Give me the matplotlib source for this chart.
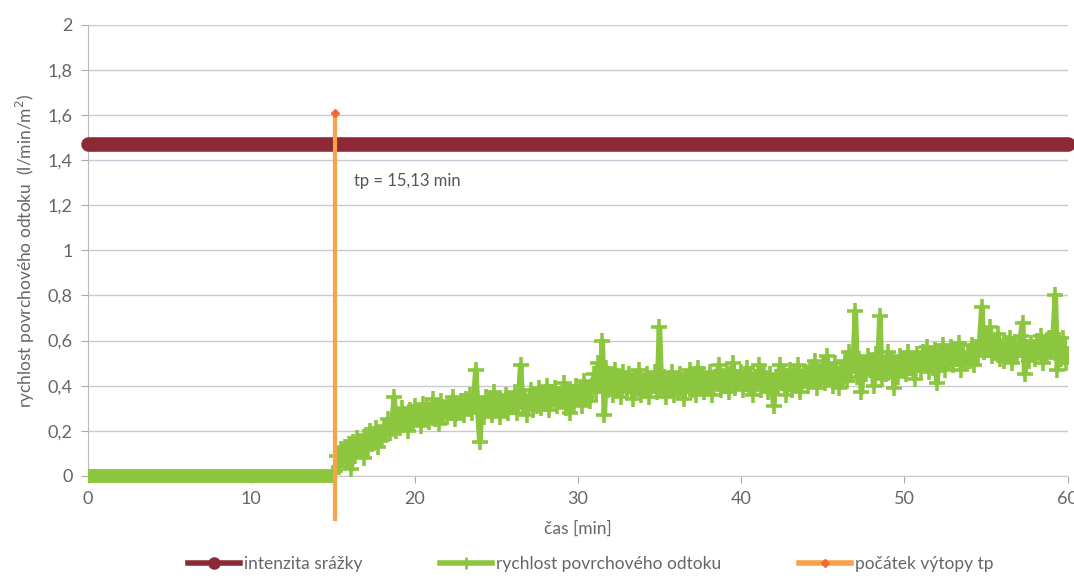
import numpy as np
import matplotlib.pyplot as plt
from matplotlib.ticker import FuncFormatter, MultipleLocator

plt.rcParams['font.family'] = ['Lato', 'DejaVu Sans']

# rain intensity (constant) [l/min/m2]
rain_t = [0, 60]
rain_i = [1.47, 1.47]

# start of ponding
tp = 15.13
tp_y = [-0.19, 1.61]

# runoff before ponding
zero_t = [0, 15.13]
zero_q = [0, 0]

# runoff after ponding, read every 0.125 min (one row = one minute)
runoff_q = [0.02,
            0.09, 0.04, 0.12, 0.07, 0.13, 0.06,
            0.14, 0.03, 0.15, 0.09, 0.17, 0.11, 0.13, 0.08,
            0.18, 0.12, 0.20, 0.14, 0.17, 0.21, 0.13, 0.19,
            0.16, 0.22, 0.18, 0.25, 0.19, 0.23, 0.35, 0.20,
            0.27, 0.21, 0.30, 0.23, 0.26, 0.20, 0.29, 0.24,
            0.31, 0.25, 0.28, 0.22, 0.32, 0.26, 0.30, 0.24,
            0.29, 0.34, 0.25, 0.31, 0.23, 0.33, 0.27, 0.30,
            0.26, 0.32, 0.28, 0.35, 0.25, 0.31, 0.29, 0.33,
            0.27, 0.34, 0.30, 0.36, 0.28, 0.33, 0.47, 0.29,
            0.15, 0.32, 0.26, 0.35, 0.29, 0.33, 0.27, 0.37,
            0.30, 0.34, 0.26, 0.32, 0.29, 0.36, 0.28, 0.33,
            0.31, 0.37, 0.28, 0.34, 0.49, 0.30, 0.35, 0.27,
            0.33, 0.38, 0.29, 0.35, 0.31, 0.39, 0.30, 0.36,
            0.32, 0.40, 0.29, 0.37, 0.34, 0.39, 0.31, 0.36,
            0.33, 0.41, 0.30, 0.38, 0.28, 0.37, 0.32, 0.40,
            0.34, 0.39, 0.31, 0.42, 0.35, 0.38, 0.33, 0.40,
            0.45, 0.37, 0.50, 0.40, 0.60, 0.27, 0.48, 0.38,
            0.44, 0.36, 0.47, 0.39, 0.43, 0.35, 0.46, 0.40,
            0.37, 0.45, 0.41, 0.34, 0.44, 0.39, 0.47, 0.36,
            0.42, 0.38, 0.45, 0.35, 0.43, 0.40, 0.46, 0.37,
            0.66, 0.39, 0.44, 0.35, 0.42, 0.38, 0.46, 0.36,
            0.43, 0.37, 0.45, 0.39, 0.34, 0.44, 0.40, 0.47,
            0.38, 0.43, 0.36, 0.48, 0.40, 0.45, 0.37, 0.42,
            0.39, 0.46, 0.36, 0.44, 0.41, 0.49, 0.38, 0.43,
            0.40, 0.47, 0.37, 0.45, 0.50, 0.39, 0.44, 0.41,
            0.46, 0.38, 0.43, 0.48, 0.39, 0.45, 0.36, 0.44,
            0.41, 0.49, 0.38, 0.46, 0.42, 0.37, 0.45, 0.40,
            0.31, 0.44, 0.39, 0.49, 0.41, 0.46, 0.36, 0.43,
            0.47, 0.38, 0.45, 0.41, 0.49, 0.37, 0.44, 0.42,
            0.46, 0.40, 0.48, 0.42, 0.51, 0.39, 0.45, 0.43,
            0.49, 0.41, 0.53, 0.44, 0.47, 0.40, 0.50, 0.45,
            0.39, 0.48, 0.43, 0.51, 0.42, 0.55, 0.46, 0.50,
            0.73, 0.44, 0.52, 0.37, 0.49, 0.45, 0.53, 0.47,
            0.51, 0.40, 0.54, 0.46, 0.71, 0.43, 0.50, 0.45,
            0.55, 0.47, 0.52, 0.39, 0.50, 0.44, 0.53, 0.48,
            0.51, 0.45, 0.55, 0.48, 0.52, 0.43, 0.54, 0.49,
            0.47, 0.55, 0.50, 0.57, 0.46, 0.53, 0.48, 0.56,
            0.41, 0.54, 0.49, 0.58, 0.47, 0.55, 0.51, 0.57,
            0.49, 0.56, 0.52, 0.59, 0.47, 0.55, 0.50, 0.54,
            0.51, 0.58, 0.49, 0.56, 0.53, 0.60, 0.75, 0.55,
            0.62, 0.56, 0.66, 0.53, 0.60, 0.55, 0.63, 0.52,
            0.57, 0.51, 0.59, 0.54, 0.61, 0.50, 0.58, 0.53,
            0.56, 0.62, 0.68, 0.45, 0.57, 0.51, 0.59, 0.54,
            0.52, 0.60, 0.55, 0.62, 0.50, 0.58, 0.53, 0.61,
            0.55, 0.63, 0.80, 0.47, 0.59, 0.52, 0.61, 0.50,
            0.54]
runoff_t = [15.13] + [15.25 + 0.125 * i for i in range(len(runoff_q) - 1)]

x_ticks = [0, 10, 20, 30, 40, 50, 60]

RED = '#8B2A34'
GREEN = '#8CC63F'
ORANGE = '#F8A24C'
TXT = '#666666'

fig = plt.figure(figsize=(10.74, 5.81), dpi=100)
ax = fig.add_axes([0.082, 0.181, 0.912, 0.776])

ax.plot(rain_t, rain_i, color=RED, lw=10.5, solid_capstyle='round', clip_on=False, zorder=3)

ax.plot(zero_t, zero_q, color=GREEN, lw=10, solid_capstyle='butt', clip_on=False, zorder=4)
ax.plot(runoff_t, runoff_q, color=GREEN, lw=4, marker='+', ms=12, mew=2.6, zorder=4)

ax.plot([tp, tp], tp_y, color=ORANGE, lw=3, clip_on=False, zorder=5)
ax.plot([tp], [tp_y[1]], marker='D', ms=4, color='#F26B3A', ls='none', zorder=6)

ax.text(16.3, 1.31, 'tp = 15,13 min', fontsize=12, color='#555555', va='center')

ax.set_xlim(0, 60)
ax.set_ylim(0, 2)
ax.set_xticks(x_ticks)
ax.yaxis.set_major_locator(MultipleLocator(0.2))
fmt = FuncFormatter(lambda v, p: f'{v:g}'.replace('.', ','))
ax.xaxis.set_major_formatter(fmt)
ax.yaxis.set_major_formatter(fmt)
ax.grid(axis='y', color='#C9C9D6', lw=1)
ax.set_axisbelow(True)
for s in ['top', 'right']:
    ax.spines[s].set_visible(False)
ax.spines['left'].set_color('#BBBBBB')
ax.spines['bottom'].set_color('#C9C9D6')
ax.tick_params(colors='#AAAAAA', labelcolor=TXT, labelsize=13, length=5, pad=6)

ax.set_xlabel('čas [min]', fontsize=12.5, color=TXT, labelpad=10)
ax.set_ylabel('rychlost povrchového odtoku  (l/min/m$^2$)', fontsize=12.5, color=TXT, labelpad=8)

h1, = ax.plot([], [], color=RED, lw=4, marker='o', ms=8)
h2, = ax.plot([], [], color=GREEN, lw=4, marker='+', ms=9, mew=2)
h3, = ax.plot([], [], color=ORANGE, lw=4, marker='D', ms=4, mfc='#F26B3A', mec='#F26B3A')
fig.legend([h1, h2, h3], ['intenzita srážky', 'rychlost povrchového odtoku', 'počátek výtopy tp'],
           loc='lower center', bbox_to_anchor=(0.55, -0.012), ncol=3, frameon=False,
           fontsize=12.5, labelcolor=TXT, handlelength=3, handletextpad=0.2, columnspacing=4.5)

fig.savefig('out.png', dpi=100)
